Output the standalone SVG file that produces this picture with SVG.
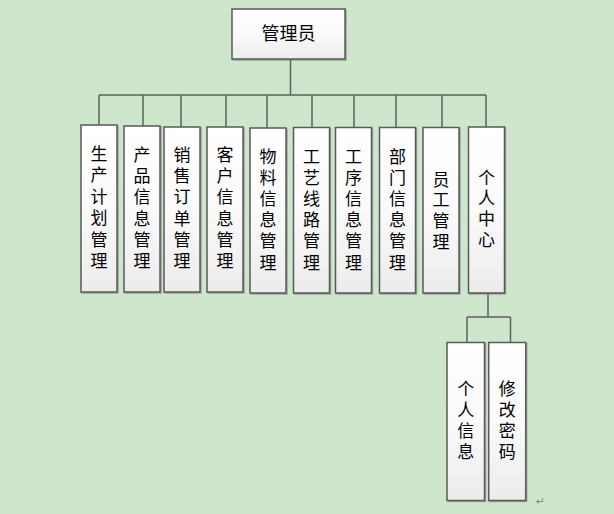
<svg xmlns="http://www.w3.org/2000/svg" width="614" height="514" viewBox="0 0 614 514">
<defs>
<linearGradient id="g" x1="0" y1="0" x2="0" y2="1">
<stop offset="0" stop-color="#ffffff"/>
<stop offset="0.5" stop-color="#fafafa"/>
<stop offset="1" stop-color="#ececec"/>
</linearGradient>
<filter id="sh" x="-10%" y="-10%" width="130%" height="130%">
<feDropShadow dx="1" dy="1" stdDeviation="0.6" flood-color="#777" flood-opacity="0.6"/>
</filter>
</defs>
<style>
.box{fill:url(#g);stroke:#5a5a5a;stroke-width:1.5;filter:url(#sh)}
.t{font-family:"Liberation Sans","Noto Sans CJK SC",sans-serif;font-size:17px;fill:#000;text-anchor:middle;dominant-baseline:central}
.ln{stroke:#5f5f5f;stroke-width:1.5;fill:none}
</style>
<rect width="614" height="514" fill="#cee7cc"/>
<g id="connectors">
<path class="ln" d="M290.5 59V95M99 95H486M99 95V125M143 95V126M181 95V127M226 95V127M267 95V128M312 95V127M354 95V127M396 95V127M442 95V127M486 95V127"/>
<path class="ln" d="M488 293V317M467 317H510.5M467 317V342M510.5 317V342"/>
</g>
<g id="n0"><rect class="box" x="232" y="9" width="113" height="50"/><text class="t" x="288.5" y="34" style="font-size:18px">管理员</text></g>
<g id="n1"><rect class="box" x="81" y="125" width="36" height="167"/><text class="t" x="99"><tspan x="99" y="154">生</tspan><tspan x="99" y="175.4">产</tspan><tspan x="99" y="196.8">计</tspan><tspan x="99" y="218.2">划</tspan><tspan x="99" y="239.6">管</tspan><tspan x="99" y="261">理</tspan></text></g>
<g id="n2"><rect class="box" x="124" y="126" width="36" height="166"/><text class="t"><tspan x="142" y="155">产</tspan><tspan x="142" y="176.2">品</tspan><tspan x="142" y="197.4">信</tspan><tspan x="142" y="218.6">息</tspan><tspan x="142" y="239.8">管</tspan><tspan x="142" y="261">理</tspan></text></g>
<g id="n3"><rect class="box" x="164" y="127" width="36" height="165"/><text class="t"><tspan x="182" y="155">销</tspan><tspan x="182" y="176.2">售</tspan><tspan x="182" y="197.4">订</tspan><tspan x="182" y="218.6">单</tspan><tspan x="182" y="239.8">管</tspan><tspan x="182" y="261">理</tspan></text></g>
<g id="n4"><rect class="box" x="207" y="127" width="36" height="165"/><text class="t"><tspan x="225" y="155">客</tspan><tspan x="225" y="176.2">户</tspan><tspan x="225" y="197.4">信</tspan><tspan x="225" y="218.6">息</tspan><tspan x="225" y="239.8">管</tspan><tspan x="225" y="261">理</tspan></text></g>
<g id="n5"><rect class="box" x="250" y="128" width="36" height="165"/><text class="t"><tspan x="268" y="156.5">物</tspan><tspan x="268" y="177.7">料</tspan><tspan x="268" y="198.9">信</tspan><tspan x="268" y="220.1">息</tspan><tspan x="268" y="241.3">管</tspan><tspan x="268" y="262.5">理</tspan></text></g>
<g id="n6"><rect class="box" x="293.5" y="127.5" width="36" height="165.5"/><text class="t"><tspan x="311.5" y="156.5">工</tspan><tspan x="311.5" y="177.7">艺</tspan><tspan x="311.5" y="198.9">线</tspan><tspan x="311.5" y="220.1">路</tspan><tspan x="311.5" y="241.3">管</tspan><tspan x="311.5" y="262.5">理</tspan></text></g>
<g id="n7"><rect class="box" x="335.5" y="127.5" width="36" height="165.5"/><text class="t"><tspan x="353.5" y="156.5">工</tspan><tspan x="353.5" y="177.7">序</tspan><tspan x="353.5" y="198.9">信</tspan><tspan x="353.5" y="220.1">息</tspan><tspan x="353.5" y="241.3">管</tspan><tspan x="353.5" y="262.5">理</tspan></text></g>
<g id="n8"><rect class="box" x="379.5" y="127.5" width="36" height="165.5"/><text class="t"><tspan x="397.5" y="156.5">部</tspan><tspan x="397.5" y="177.7">门</tspan><tspan x="397.5" y="198.9">信</tspan><tspan x="397.5" y="220.1">息</tspan><tspan x="397.5" y="241.3">管</tspan><tspan x="397.5" y="262.5">理</tspan></text></g>
<g id="n9"><rect class="box" x="423" y="127.5" width="36" height="165.5"/><text class="t"><tspan x="441" y="179.5">员</tspan><tspan x="441" y="200.3">工</tspan><tspan x="441" y="221.1">管</tspan><tspan x="441" y="241.9">理</tspan></text></g>
<g id="n10"><rect class="box" x="468.5" y="127" width="36" height="166"/><text class="t"><tspan x="486.5" y="177.5">个</tspan><tspan x="486.5" y="198.4">人</tspan><tspan x="486.5" y="219.3">中</tspan><tspan x="486.5" y="240.2">心</tspan></text></g>
<g id="n11"><rect class="box" x="447" y="342.5" width="37.5" height="158"/><text class="t"><tspan x="465.7" y="388.5">个</tspan><tspan x="465.7" y="409.6">人</tspan><tspan x="465.7" y="430.7">信</tspan><tspan x="465.7" y="451.8">息</tspan></text></g>
<g id="n12"><rect class="box" x="488.7" y="342.5" width="37" height="158"/><text class="t"><tspan x="507.2" y="388.5">修</tspan><tspan x="507.2" y="409.6">改</tspan><tspan x="507.2" y="430.7">密</tspan><tspan x="507.2" y="451.8">码</tspan></text></g>
<text x="536" y="505" style="font-family:'DejaVu Sans',sans-serif;font-size:11px;fill:#888">↵</text>
</svg>
